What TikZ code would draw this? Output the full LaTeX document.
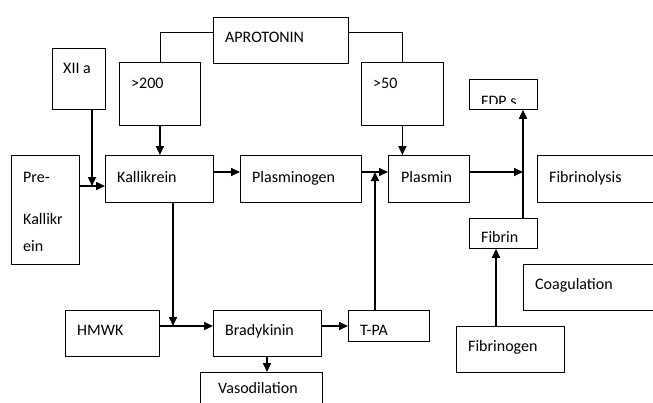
\documentclass[tikz,border=0pt]{standalone}
\usepackage{fontspec}
\setmainfont{Carlito}
\usetikzlibrary{arrows.meta}
\tikzset{
  box/.style={draw, line width=0.8pt, anchor=north west, inner sep=0pt},
  lbl/.style={anchor=base west, inner sep=0pt, font=\fontsize{16}{18}\selectfont},
  arr/.style={line width=1.6pt, -{Triangle[length=9pt,width=8pt]}},
  plain/.style={line width=1.6pt},
  link/.style={line width=0.8pt},
}
\begin{document}
\begin{tikzpicture}[x=1pt,y=-1pt]
  \useasboundingbox (0,0) rectangle (653,402);
  \clip (0,0) rectangle (653,402);
  % boxes
  \node[box, minimum width=135, minimum height=46] (apro)  at (213,17) {};
  \node[box, minimum width=53,  minimum height=61] (xii)   at (52,48) {};
  \node[box, minimum width=81,  minimum height=63] (p200)  at (119,62) {};
  \node[box, minimum width=82,  minimum height=63] (p50)   at (361,62) {};
  \node[box, minimum width=68,  minimum height=30] (fdp)   at (469,79) {};
  \node[box, minimum width=68,  minimum height=109] (pre)  at (11,155) {};
  \node[box, minimum width=108, minimum height=47] (kal)   at (105,155) {};
  \node[box, minimum width=121, minimum height=47] (plg)   at (240,155) {};
  \node[box, minimum width=81,  minimum height=47] (pls)   at (388,155) {};
  \node[box, minimum width=140, minimum height=47] (lysis) at (537,155) {};
  \node[box, minimum width=68,  minimum height=30] (fib)   at (469,218) {};
  \node[box, minimum width=140, minimum height=46] (coag)  at (523,264) {};
  \node[box, minimum width=94,  minimum height=46] (hmwk)  at (65,310) {};
  \node[box, minimum width=108, minimum height=46] (brady) at (213,310) {};
  \node[box, minimum width=81,  minimum height=31] (tpa)   at (348,310) {};
  \node[box, minimum width=108, minimum height=46] (fbg)   at (456,326) {};
  \node[box, minimum width=122, minimum height=40] (vaso)  at (200,372) {};
  % texts
  \node[lbl] (t-apro)  at (225,42)  {APROTONIN};
  \node[lbl] (t-xii)   at (63,73)   {XII a};
  \node[lbl] (t-p200)  at (131,88)  {>200};
  \node[lbl] (t-p50)   at (373,88)  {>50};
  \begin{scope}
    \clip (469,79) rectangle (537,103);
    \node[lbl] (t-fdp) at (481,106) {FDP s};
  \end{scope}
  \node[lbl] (t-pre1)  at (23,182)  {Pre-};
  \node[lbl] (t-pre2)  at (23,224)  {Kallikr};
  \node[lbl] (t-pre3)  at (23,251)  {ein};
  \node[lbl] (t-kal)   at (117,182) {Kallikrein};
  \node[lbl] (t-plg)   at (252,182) {Plasminogen};
  \node[lbl] (t-pls)   at (401,182) {Plasmin};
  \node[lbl] (t-lysis) at (549,182) {Fibrinolysis};
  \node[lbl] (t-fib)   at (481,242) {Fibrin};
  \node[lbl] (t-coag)  at (535,289) {Coagulation};
  \node[lbl] (t-hmwk)  at (77,335)  {HMWK};
  \node[lbl] (t-brady) at (225,335) {Bradykinin};
  \node[lbl] (t-tpa)   at (360,335) {T-PA};
  \node[lbl] (t-fbg)   at (468,351) {Fibrinogen};
  \node[lbl] (t-vaso)  at (218,393) {Vasodilation};
  % junctions
  \coordinate (ay) at (0,32);
  \coordinate (kj) at (92,186);
  \coordinate (pj) at (375,172);
  \coordinate (fj) at (523,172);
  \coordinate (hj) at (173,326);
  \coordinate (bj) at (267,356);
  \coordinate (gj) at (496,326);
  % connectors
  \draw[link] (apro.west |- ay) -| (p200.north);
  \draw[link] (apro.east |- ay) -| (p50.north);
  \draw[arr] (xii.south -| kj) -- (kj);
  \draw[arr] (pre.east |- kj) -- (kal.west |- kj);
  \draw[arr] (p200.south) -- (p200.south |- kal.north);
  \draw[arr] (p50.south) -- (p50.south |- pls.north);
  \draw[arr] (kal.east |- pj) -- (plg.west |- pj);
  \draw[arr] (plg.east |- pj) -- (pls.west |- pj);
  \draw[arr] (tpa.north -| pj) -- (pj);
  \draw[arr] (pls.east |- fj) -- (fj);
  \draw[arr] (fib.north -| fj) -- (fdp.south -| fj);
  \draw[arr] (gj) -- (fib.south -| gj);
  \draw[arr] (kal.south -| hj) -- (hj);
  \draw[arr] (hmwk.east |- hj) -- (brady.west |- hj);
  \draw[arr] (brady.east |- hj) -- (tpa.west |- hj);
  \draw[arr] (bj) -- (vaso.north -| bj);
\end{tikzpicture}
\end{document}
